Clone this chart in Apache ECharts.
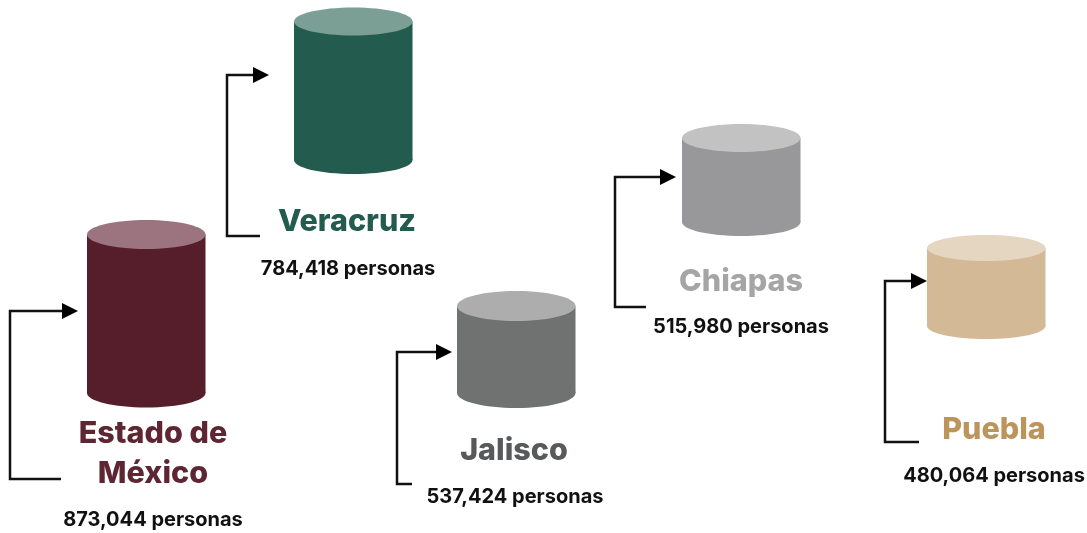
<!DOCTYPE html>
<html>
<head>
<meta charset="utf-8">
<title>Personas por estado</title>
<style>
html, body { margin: 0; padding: 0; background: #fff; }
#main { width: 1087px; height: 533px; }
</style>
<script src="https://cdn.jsdelivr.net/npm/echarts@6/dist/echarts.min.js"></script>
</head>
<body>
<div id="main"></div>
<script>
// datos
var estados = ['Estado de México', 'Veracruz', 'Jalisco', 'Chiapas', 'Puebla'];
var personas = [873044, 784418, 537424, 515980, 480064];

// colores
var colorCuerpo = ['#561e2b', '#235b4e', '#6f7271', '#98989a', '#d4b997'];
var colorTapa = ['#9c7480', '#7b9e95', '#adadad', '#c2c2c2', '#e4d6c0'];
var colorTitulo = ['#5e2633', '#235b4e', '#58595b', '#a5a5a5', '#bc955c'];

// posicion de cada cilindro (un grid por estado)
var gridLeft = [87, 294, 457, 682, 927];
var gridBase = [393, 160, 393, 222, 326];
var gridAlto = [163.4, 158.9, 145.7, 146.5, 146.2];
var radioY = [14.5, 14, 15, 14, 13];
var maxY = 900000;

// etiquetas: centro x, y del titulo, y de la cifra
var tituloX = [153, 347, 514, 741, 994];
var tituloY = [433.5, 221.5, 450.5, 281.5, 429.5];
var cifraX = [153, 348, 515, 741, 994];
var cifraY = [520, 269, 497, 327, 476];

// flechas: x vertical, y de arriba, y de abajo, fin de la linea inferior, punta
var flechaX = [10, 227, 397, 615, 885];
var flechaTop = [311, 75, 352, 177, 281];
var flechaBottom = [479, 236, 484, 307, 442];
var flechaFin = [61, 260, 412, 646, 919];
var flechaPunta = [78, 269, 452, 676, 927];

var fuente = 'Inter';
var grids = [], xAxes = [], yAxes = [], series = [], graficos = [];

estados.forEach(function (nombre, i) {
    grids.push({ left: gridLeft[i], width: 118.5, top: gridBase[i] - gridAlto[i], height: gridAlto[i] });
    xAxes.push({ type: 'category', gridIndex: i, data: [nombre], show: false });
    yAxes.push({ type: 'value', gridIndex: i, min: 0, max: maxY, show: false });
    series.push({
        type: 'custom',
        name: nombre,
        xAxisIndex: i,
        yAxisIndex: i,
        clip: false,
        silent: true,
        data: [[0, personas[i]]],
        renderItem: function (params, api) {
            var arriba = api.coord([api.value(0), api.value(1)]);
            var abajo = api.coord([api.value(0), 0]);
            var rx = api.size([1, 0])[0] / 2;
            var ry = radioY[i];
            return {
                type: 'group',
                children: [
                    { type: 'ellipse', shape: { cx: abajo[0], cy: abajo[1], rx: rx, ry: ry }, style: { fill: colorCuerpo[i] } },
                    { type: 'rect', shape: { x: arriba[0] - rx, y: arriba[1], width: rx * 2, height: abajo[1] - arriba[1] }, style: { fill: colorCuerpo[i] } },
                    { type: 'ellipse', shape: { cx: arriba[0], cy: arriba[1], rx: rx, ry: ry }, style: { fill: colorTapa[i] } }
                ]
            };
        }
    });

    // titulo (Estado de Mexico va en dos lineas)
    var lineas = nombre === 'Estado de México' ? ['Estado de', 'México'] : [nombre];
    lineas.forEach(function (t, j) {
        graficos.push({
            type: 'text', x: tituloX[i], y: tituloY[i] + j * 40,
            style: { text: t, fill: colorTitulo[i], font: '800 30.5px ' + fuente, textAlign: 'center', textVerticalAlign: 'middle' }
        });
    });
    graficos.push({
        type: 'text', x: cifraX[i], y: cifraY[i],
        style: { text: personas[i].toLocaleString('en-US') + ' personas', fill: '#111', font: '700 20px ' + fuente, textAlign: 'center', textVerticalAlign: 'middle' }
    });

    // flecha
    graficos.push({
        type: 'polyline',
        shape: { points: [[flechaFin[i], flechaBottom[i]], [flechaX[i], flechaBottom[i]], [flechaX[i], flechaTop[i]], [flechaPunta[i] - 10, flechaTop[i]]] },
        style: { stroke: '#111', lineWidth: 2.5, fill: null }
    });
    graficos.push({
        type: 'polygon',
        shape: { points: [[flechaPunta[i] - 16, flechaTop[i] - 8], [flechaPunta[i], flechaTop[i]], [flechaPunta[i] - 16, flechaTop[i] + 8]] },
        style: { fill: '#000' }
    });
});

var chart = echarts.init(document.getElementById('main'));
chart.setOption({
    animation: false,
    backgroundColor: '#fff',
    grid: grids,
    xAxis: xAxes,
    yAxis: yAxes,
    series: series,
    graphic: { elements: graficos }
});
</script>
</body>
</html>
